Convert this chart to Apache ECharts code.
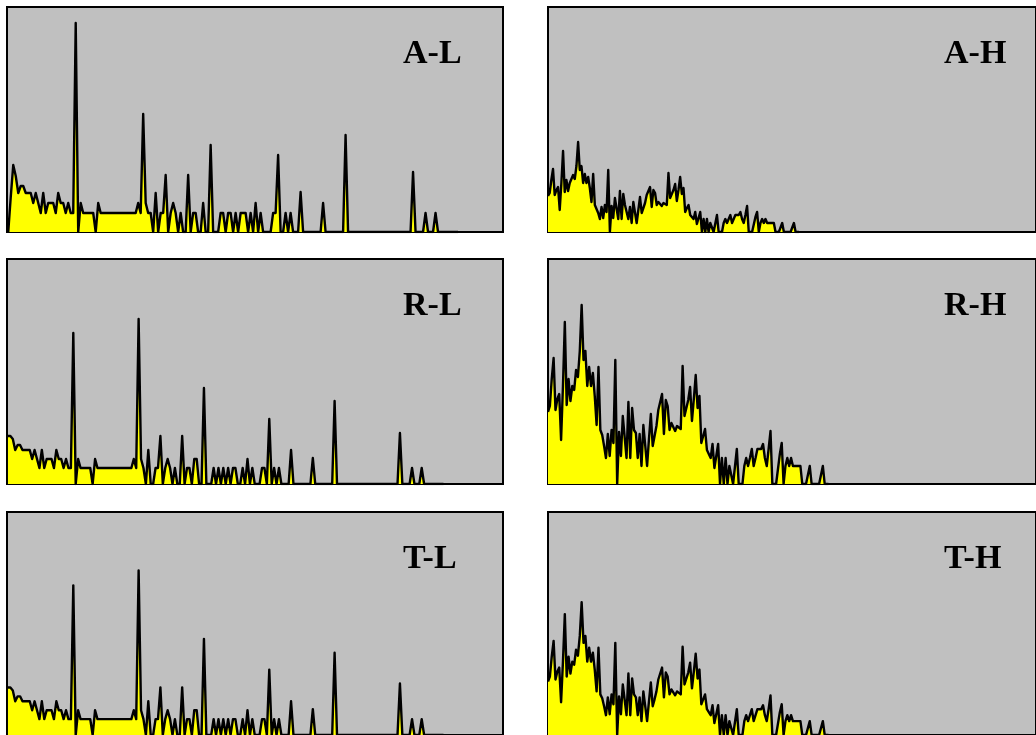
<!DOCTYPE html>
<html>
<head>
<meta charset="utf-8">
<title>L / H histograms</title>
<script src="https://cdn.jsdelivr.net/npm/echarts@6/dist/echarts.min.js"></script>
<style>
  html, body { margin: 0; padding: 0; background: #fff; }
  #histCharts { width: 1036px; height: 735px; }
</style>
</head>
<body>
<div id="histCharts"></div>
<script>
// low band, one value per bin
var alValues = [0, 35, 67, 56, 39, 46, 46, 39, 39, 39,
  29, 39, 29, 19, 39, 19, 29, 29, 29, 19,
  39, 29, 29, 19, 29, 19, 19, 209, 0, 29,
  19, 19, 19, 19, 19, 0, 29, 19, 19, 19,
  19, 19, 19, 19, 19, 19, 19, 19, 19, 19,
  19, 19, 29, 19, 118, 29, 19, 19, 0, 39,
  0, 19, 19, 57, 0, 19, 29, 19, 0, 19,
  0, 0, 57, 0, 19, 19, 0, 0, 29, 0,
  0, 87, 0, 0, 0, 19, 19, 0, 19, 19,
  0, 19, 0, 19, 19, 19, 0, 19, 0, 29,
  0, 19, 0, 0, 0, 0, 19, 19, 77, 0,
  0, 19, 0, 19, 0, 0, 0, 40, 0, 0,
  0, 0, 0, 0, 0, 0, 29, 0, 0, 0,
  0, 0, 0, 0, 0, 97, 0, 0, 0, 0,
  0, 0, 0, 0, 0, 0, 0, 0, 0, 0,
  0, 0, 0, 0, 0, 0, 0, 0, 0, 0,
  0, 0, 60, 0, 0, 0, 0, 19, 0, 0,
  0, 19, 0, 0, 0, 0, 0, 0, 0, 0, 0];

var rlValues = [48, 48, 45, 34, 39, 39, 34, 34, 34, 34,
  25, 34, 25, 16, 34, 16, 25, 25, 25, 16,
  34, 25, 25, 16, 25, 16, 16, 151, 0, 25,
  16, 16, 16, 16, 16, 0, 25, 16, 16, 16,
  16, 16, 16, 16, 16, 16, 16, 16, 16, 16,
  16, 16, 25, 16, 165, 25, 16, 0, 34, 0,
  0, 16, 16, 48, 0, 16, 25, 16, 0, 16,
  0, 0, 48, 0, 16, 16, 0, 25, 25, 0,
  0, 96, 0, 0, 0, 16, 0, 16, 0, 16,
  0, 16, 0, 16, 16, 0, 0, 16, 0, 25,
  0, 16, 0, 0, 0, 16, 16, 0, 65, 0,
  16, 0, 16, 0, 0, 0, 0, 34, 0, 0,
  0, 0, 0, 0, 0, 0, 26, 0, 0, 0,
  0, 0, 0, 0, 0, 83, 0, 0, 0, 0,
  0, 0, 0, 0, 0, 0, 0, 0, 0, 0,
  0, 0, 0, 0, 0, 0, 0, 0, 0, 0,
  0, 0, 51, 0, 0, 0, 0, 16, 0, 0,
  0, 16, 0, 0, 0, 0, 0, 0, 0, 0, 0];

var tlValues = [48, 48, 45, 34, 39, 39, 34, 34, 34, 34,
  25, 34, 25, 16, 34, 16, 25, 25, 25, 16,
  34, 25, 25, 16, 25, 16, 16, 151, 0, 25,
  16, 16, 16, 16, 16, 0, 25, 16, 16, 16,
  16, 16, 16, 16, 16, 16, 16, 16, 16, 16,
  16, 16, 25, 16, 166, 25, 16, 0, 34, 0,
  0, 16, 16, 48, 0, 16, 25, 16, 0, 16,
  0, 0, 48, 0, 16, 16, 0, 25, 25, 0,
  0, 97, 0, 0, 0, 16, 0, 16, 0, 16,
  0, 16, 0, 16, 16, 0, 0, 16, 0, 25,
  0, 16, 0, 0, 0, 16, 16, 0, 66, 0,
  16, 0, 16, 0, 0, 0, 0, 34, 0, 0,
  0, 0, 0, 0, 0, 0, 26, 0, 0, 0,
  0, 0, 0, 0, 0, 83, 0, 0, 0, 0,
  0, 0, 0, 0, 0, 0, 0, 0, 0, 0,
  0, 0, 0, 0, 0, 0, 0, 0, 0, 0,
  0, 0, 52, 0, 0, 0, 0, 16, 0, 0,
  0, 16, 0, 0, 0, 0, 0, 0, 0, 0, 0];

// high band
var ahValues = [36, 39, 52, 63, 37, 42, 45, 22, 49, 81,
  40, 52, 41, 49, 47, 57, 53, 66, 90, 62,
  66, 49, 58, 49, 55, 44, 30, 58, 27, 25,
  19, 13, 25, 14, 27, 20, 62, 0, 26, 14,
  34, 35, 13, 41, 13, 38, 27, 25, 13, 25,
  9, 30, 30, 9, 22, 35, 19, 24, 29, 37,
  36, 45, 25, 42, 39, 27, 30, 30, 26, 29,
  29, 27, 59, 34, 34, 42, 48, 31, 42, 55,
  38, 44, 20, 24, 27, 17, 17, 13, 20, 8,
  8, 20, 0, 13, 0, 13, 0, 9, 9, 0,
  0, 17, 0, 0, 0, 9, 13, 9, 13, 17,
  9, 13, 17, 17, 17, 20, 13, 9, 17, 26,
  0, 0, 0, 0, 15, 20, 0, 9, 13, 9,
  13, 9, 9, 9, 9, 9, 0, 0, 0, 0,
  9, 0, 0, 0, 0, 0, 0, 9, 0, 0, 0];

var rhValues = [72, 78, 105, 126, 74, 85, 90, 44, 98, 162,
  79, 105, 83, 98, 94, 114, 107, 133, 179, 124,
  133, 98, 117, 98, 111, 88, 59, 117, 54, 49,
  38, 26, 50, 28, 54, 41, 124, 0, 52, 28,
  68, 70, 26, 82, 26, 76, 54, 51, 26, 50,
  18, 59, 61, 18, 45, 70, 38, 48, 58, 74,
  73, 90, 50, 84, 78, 54, 61, 59, 53, 58,
  58, 55, 118, 68, 68, 84, 97, 63, 85, 109,
  76, 88, 41, 48, 55, 34, 34, 26, 40, 16,
  16, 40, 0, 26, 0, 26, 0, 18, 18, 0,
  0, 35, 0, 0, 0, 18, 26, 18, 26, 35,
  18, 26, 35, 34, 35, 40, 26, 18, 35, 53,
  0, 0, 0, 0, 30, 41, 0, 18, 26, 18,
  26, 18, 18, 18, 18, 18, 0, 0, 0, 0,
  18, 0, 0, 0, 0, 0, 0, 18, 0, 0, 0];

var thValues = [54, 59, 79, 95, 56, 64, 68, 33, 74, 122,
  59, 79, 62, 74, 71, 86, 80, 100, 134, 93,
  100, 74, 88, 74, 83, 66, 44, 88, 41, 37,
  29, 20, 38, 21, 41, 31, 93, 0, 39, 21,
  51, 53, 20, 62, 20, 57, 41, 38, 20, 38,
  14, 44, 46, 14, 34, 53, 29, 36, 44, 56,
  55, 68, 38, 63, 59, 41, 46, 44, 40, 44,
  44, 41, 89, 51, 51, 63, 73, 47, 64, 82,
  57, 66, 31, 36, 41, 26, 26, 20, 30, 12,
  12, 30, 0, 20, 0, 20, 0, 14, 14, 0,
  0, 26, 0, 0, 0, 14, 20, 14, 20, 26,
  14, 20, 26, 26, 26, 30, 20, 14, 26, 40,
  0, 0, 0, 0, 23, 31, 0, 14, 20, 14,
  20, 14, 14, 14, 14, 14, 0, 0, 0, 0,
  14, 0, 0, 0, 0, 0, 0, 14, 0, 0, 0];

var panelNames = ["A-L", "A-H", "R-L", "R-H", "T-L", "T-H"];
var panelData = [alValues, ahValues, rlValues, rhValues, tlValues, thValues];
// bin range shown on each x axis
var binMin = [-0.5, 0, -0.4, 0, -0.4, 0];
var binMax = [198, 291.7, 204.6, 261, 204.6, 261];
var yMax = 225;

// layout
var colLeft = [7, 548];
var rowTop = [7, 259, 512];
var panelW = 496;
var panelH = 225;

var myChart = echarts.init(document.getElementById("histCharts"));

var grids = [], xAxes = [], yAxes = [], series = [], labels = [];
panelNames.forEach(function (name, i) {
  var left = colLeft[i % 2];
  var top = rowTop[Math.floor(i / 2)];
  grids.push({
    left: left,
    top: top,
    width: panelW,
    height: panelH,
    show: true,
    backgroundColor: "#c0c0c0",
    borderColor: "#000",
    borderWidth: 2,
  });
  xAxes.push({ type: "value", gridIndex: i, min: binMin[i], max: binMax[i], show: false });
  yAxes.push({ type: "value", gridIndex: i, min: 0, max: yMax, show: false });
  series.push({
    type: "line",
    name: name,
    xAxisIndex: i,
    yAxisIndex: i,
    symbol: "none",
    silent: true,
    lineStyle: { color: "#000", width: 2.4, join: "round" },
    areaStyle: { color: "#ffff00", opacity: 1 },
    data: panelData[i].map(function (v, k) { return [k, v]; }),
  });
  labels.push({
    type: "text",
    x: left + 396,
    y: top + 47,
    z: 100,
    style: {
      text: name,
      fill: "#000",
      font: 'bold 34px "Liberation Serif", "Times New Roman", serif',
      align: "left",
      verticalAlign: "middle",
    },
  });
});

var option = {
  animation: false,
  grid: grids,
  xAxis: xAxes,
  yAxis: yAxes,
  series: series,
  graphic: labels,
};
myChart.setOption(option);
</script>
</body>
</html>
